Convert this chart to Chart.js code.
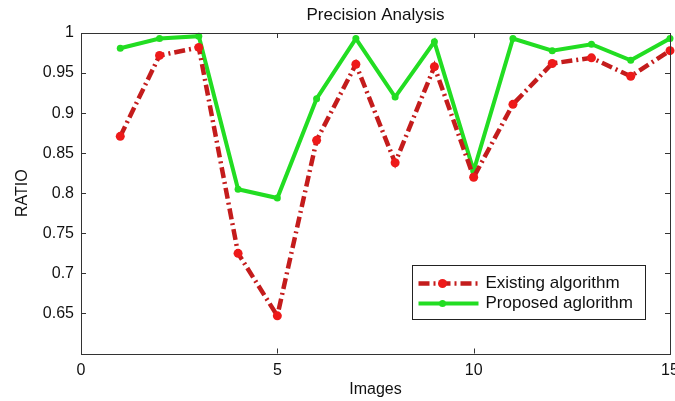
<!DOCTYPE html>
<html>
<head>
<meta charset="utf-8">
<script src="https://cdn.jsdelivr.net/npm/chart.js@4"></script>
<style>
  html, body { margin: 0; padding: 0; background: #fff; }
  canvas { display: block; }
</style>
</head>
<body>
<canvas id="grafico" width="675" height="401"></canvas>
<script>
// data
const images = [1, 2, 3, 4, 5, 6, 7, 8, 9, 10, 11, 12, 13, 14, 15];
const existing = [0.871, 0.972, 0.982, 0.725, 0.647, 0.866, 0.961, 0.838, 0.958, 0.820, 0.911, 0.962, 0.969, 0.946, 0.978];
const proposed = [0.981, 0.993, 0.996, 0.805, 0.794, 0.918, 0.993, 0.920, 0.989, 0.828, 0.993, 0.978, 0.986, 0.966, 0.993];
const seriesNames = ["Existing algorithm", "Proposed aglorithm"];
const xTicks = [0, 5, 10, 15];
const yTicks = [0.65, 0.7, 0.75, 0.8, 0.85, 0.9, 0.95, 1];

const FONT = "'Liberation Sans', Arial, sans-serif";
const RED_LINE = "#c41c1c";
const RED_MARK = "#ee1a1a";
const GREEN = "#22dd22";
const RED_DASH = [11, 4, 2, 4];

// box round the plot + inward ticks on all four sides, MATLAB style
const boxPlugin = {
    id: "boxTicks",
    afterDraw(chart) {
        const { ctx, chartArea: a, scales } = chart;
        ctx.save();
        ctx.strokeStyle = "#333";
        ctx.lineWidth = 1;
        ctx.strokeRect(Math.round(a.left) + 0.5, Math.round(a.top) + 0.5,
            Math.round(a.right - a.left), Math.round(a.bottom - a.top));
        ctx.beginPath();
        xTicks.slice(1, -1).forEach(v => {
            const px = Math.round(scales.x.getPixelForValue(v)) + 0.5;
            ctx.moveTo(px, a.bottom); ctx.lineTo(px, a.bottom - 5);
            ctx.moveTo(px, a.top); ctx.lineTo(px, a.top + 5);
        });
        yTicks.slice(0, -1).forEach(v => {
            const py = Math.round(scales.y.getPixelForValue(v)) + 0.5;
            ctx.moveTo(a.left, py); ctx.lineTo(a.left + 5, py);
            ctx.moveTo(a.right, py); ctx.lineTo(a.right - 5, py);
        });
        ctx.stroke();
        ctx.restore();
    }
};

// legend box in the lower right of the plot
const legendPlugin = {
    id: "legendBox",
    afterDatasetsDraw(chart) {
        const { ctx, chartArea: a } = chart;
        const w = 233, h = 54;
        const x0 = Math.round(a.right - 25 - w) + 0.5;
        const y0 = Math.round(a.bottom - 35 - h) + 0.5;
        ctx.save();
        ctx.fillStyle = "#fff";
        ctx.fillRect(x0, y0, w, h);
        ctx.strokeStyle = "#222";
        ctx.lineWidth = 1;
        ctx.strokeRect(x0, y0, w, h);
        chart.data.datasets.forEach((ds, i) => {
            const cy = y0 + 18 + i * 20;
            ctx.beginPath();
            ctx.strokeStyle = ds.borderColor;
            ctx.lineWidth = ds.borderWidth;
            ctx.setLineDash(ds.borderDash || []);
            ctx.moveTo(x0 + 6, cy);
            ctx.lineTo(x0 + 66, cy);
            ctx.stroke();
            ctx.setLineDash([]);
            ctx.beginPath();
            ctx.fillStyle = ds.pointBackgroundColor;
            ctx.arc(x0 + 30, cy, ds.pointRadius, 0, Math.PI * 2);
            ctx.fill();
            ctx.fillStyle = "#111";
            ctx.font = "17px " + FONT;
            ctx.textBaseline = "middle";
            ctx.fillText(seriesNames[i], x0 + 73, cy);
        });
        ctx.restore();
    }
};

const ctx = document.getElementById("grafico").getContext("2d");

new Chart(ctx, {
    type: "line",
    data: {
        datasets: [
            {
                label: seriesNames[0],
                data: images.map((x, i) => ({ x, y: existing[i] })),
                borderColor: RED_LINE,
                borderWidth: 4.5,
                borderDash: RED_DASH,
                pointBackgroundColor: RED_MARK,
                pointBorderColor: RED_MARK,
                pointRadius: 4.5,
                pointBorderWidth: 0,
                tension: 0,
                clip: false
            },
            {
                label: seriesNames[1],
                data: images.map((x, i) => ({ x, y: proposed[i] })),
                borderColor: GREEN,
                borderWidth: 4,
                pointBackgroundColor: GREEN,
                pointBorderColor: GREEN,
                pointRadius: 3.5,
                pointBorderWidth: 0,
                tension: 0,
                clip: false
            }
        ]
    },
    options: {
        responsive: false,
        animation: false,
        devicePixelRatio: 1,
        layout: { padding: { left: 0, right: 5, top: 0, bottom: 0 } },
        plugins: {
            legend: { display: false },
            tooltip: { enabled: false },
            title: {
                display: true,
                text: "Precision Analysis",
                fullSize: false,
                color: "#111",
                font: { family: FONT, size: 17, weight: "normal", lineHeight: 1.2 },
                padding: { top: 5, bottom: 7.6 }
            }
        },
        scales: {
            x: {
                type: "linear",
                min: 0,
                max: 15,
                afterFit: s => { s.height = 47.5; s.paddingLeft = 0; s.paddingRight = 0; },
                afterBuildTicks: s => { s.ticks = xTicks.map(v => ({ value: v })); },
                grid: { display: false, drawTicks: false },
                border: { display: false },
                ticks: { color: "#111", padding: 7, font: { family: FONT, size: 16 } },
                title: {
                    display: true,
                    text: "Images",
                    color: "#111",
                    font: { family: FONT, size: 16 },
                    padding: { top: 0, bottom: 2 }
                }
            },
            y: {
                min: 0.6,
                max: 1,
                afterFit: s => { s.width = 81; s.paddingTop = 0; s.paddingBottom = 0; },
                afterBuildTicks: s => { s.ticks = yTicks.map(v => ({ value: v })); },
                grid: { display: false, drawTicks: false },
                border: { display: false },
                ticks: {
                    color: "#111",
                    padding: 7,
                    font: { family: FONT, size: 16 },
                    callback: v => String(Number(v.toFixed(2)))
                },
                title: {
                    display: true,
                    text: "RATIO",
                    color: "#111",
                    font: { family: FONT, size: 16 },
                    padding: { top: 13, bottom: 0 }
                }
            }
        }
    },
    plugins: [boxPlugin, legendPlugin]
});
</script>
</body>
</html>
